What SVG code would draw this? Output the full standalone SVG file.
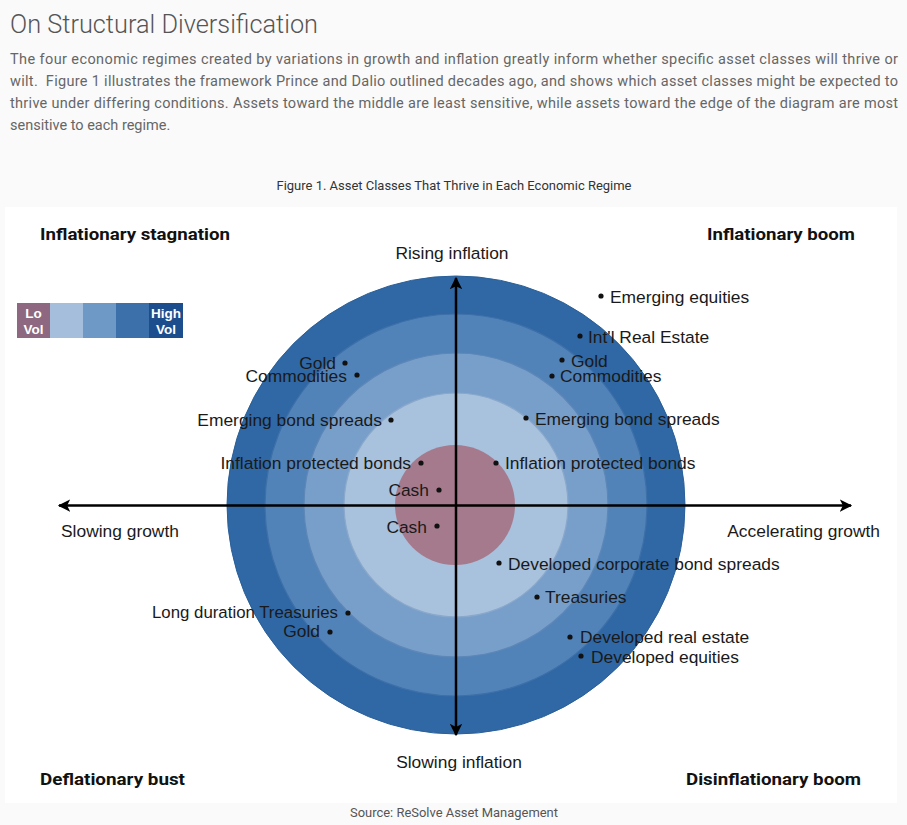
<svg xmlns="http://www.w3.org/2000/svg" width="907" height="825" viewBox="0 0 907 825">
<defs>
<style>
.para{font-family:Roboto,"Liberation Sans",sans-serif;font-size:14.5px;fill:#666}
.title{font-family:Roboto,"Liberation Sans",sans-serif;font-size:25px;font-weight:300;fill:#555}
.cap{font-family:Roboto,"Liberation Sans",sans-serif;font-size:13px;fill:#333}
.corner{font-family:Roboto,"Liberation Sans",sans-serif;font-size:17px;font-weight:700;fill:#111}
.lbl{font-family:"Liberation Sans",Arial,sans-serif;font-size:17.4px;fill:#1a1a1a}
.ax{font-family:"Liberation Sans",Arial,sans-serif;font-size:17.4px;fill:#1a1a1a}
.leg{font-family:"Liberation Sans",Arial,sans-serif;font-size:13.5px;font-weight:700;fill:#fff}
.dot{fill:#111}
.axis{stroke:#000;stroke-width:2.5;fill:none}
</style>
<marker id="ah" viewBox="0 0 10 10" refX="9" refY="5" markerWidth="5" markerHeight="5" orient="auto" markerUnits="strokeWidth">
<path d="M0,0 L10,5 L0,10 L2.5,5 Z" fill="#000"/>
</marker>
</defs>
<rect width="907" height="825" fill="#fafafa"/>
<text class="title" x="10" y="33" textLength="308" lengthAdjust="spacingAndGlyphs">On Structural Diversification</text>
<text class="para" x="10" y="64" textLength="888" lengthAdjust="spacing">The four economic regimes created by variations in growth and inflation greatly inform whether specific asset classes will thrive or</text>
<text class="para" x="10" y="86" textLength="888" lengthAdjust="spacing" xml:space="preserve">wilt.  Figure 1 illustrates the framework Prince and Dalio outlined decades ago, and shows which asset classes might be expected to</text>
<text class="para" x="10" y="108" textLength="888" lengthAdjust="spacing">thrive under differing conditions. Assets toward the middle are least sensitive, while assets toward the edge of the diagram are most</text>
<text class="para" x="10" y="130">sensitive to each regime.</text>
<text class="cap" x="454" y="190" text-anchor="middle" textLength="355" lengthAdjust="spacingAndGlyphs">Figure 1. Asset Classes That Thrive in Each Economic Regime</text>
<rect x="5" y="207" width="892" height="596" fill="#fff"/>
<g id="rings">
<circle cx="456" cy="505" r="229" fill="#2f68a5" stroke="#2a5f98" stroke-width="1"/>
<circle cx="456" cy="505" r="191" fill="#5183b9" stroke="#3e70a8" stroke-width="1.2"/>
<circle cx="456" cy="505" r="152" fill="#789fca" stroke="#5d87b7" stroke-width="1.2"/>
<circle cx="456" cy="505" r="112" fill="#a8c1dc" stroke="#8aa8cb" stroke-width="1.2"/>
<circle cx="455" cy="505" r="60" fill="#a67a8d"/>
</g>
<g id="legend">
<rect x="17" y="303" width="33" height="35" fill="#8d6880"/>
<rect x="50" y="303" width="33" height="35" fill="#a5bedb"/>
<rect x="83" y="303" width="33" height="35" fill="#6e98c5"/>
<rect x="116" y="303" width="33" height="35" fill="#3c70aa"/>
<rect x="149" y="303" width="34" height="35" fill="#1c4e8e"/>
<text class="leg" x="33.5" y="318" text-anchor="middle">Lo</text>
<text class="leg" x="33.5" y="334" text-anchor="middle">Vol</text>
<text class="leg" x="166" y="318" text-anchor="middle">High</text>
<text class="leg" x="166" y="334" text-anchor="middle">Vol</text>
</g>
<g id="connectors">
<line class="axis" x1="456" y1="505.5" x2="59" y2="505.5" marker-end="url(#ah)"/>
<line class="axis" x1="456" y1="505.5" x2="851" y2="505.5" marker-end="url(#ah)"/>
<line class="axis" x1="456" y1="505.5" x2="456" y2="278" stroke-width="2.2" marker-end="url(#ah)"/>
<line class="axis" x1="456" y1="505.5" x2="456" y2="735" stroke-width="2.2" marker-end="url(#ah)"/>
</g>
<g id="axis-labels">
<text class="ax" x="452" y="259" text-anchor="middle">Rising inflation</text>
<text class="ax" x="459" y="768" text-anchor="middle">Slowing inflation</text>
<text class="ax" x="61" y="537">Slowing growth</text>
<text class="ax" x="880" y="537" text-anchor="end">Accelerating growth</text>
</g>
<g id="regimes">
<text class="corner" x="40" y="240" textLength="190" lengthAdjust="spacingAndGlyphs">Inflationary stagnation</text>
<text class="corner" x="707" y="240" textLength="148" lengthAdjust="spacingAndGlyphs">Inflationary boom</text>
<text class="corner" x="40" y="785" textLength="145" lengthAdjust="spacingAndGlyphs">Deflationary bust</text>
<text class="corner" x="686" y="785" textLength="175" lengthAdjust="spacingAndGlyphs">Disinflationary boom</text>
</g>
<g id="right-assets">
<circle class="dot" cx="601" cy="296" r="2.6"/><text class="lbl" x="610" y="303">Emerging equities</text>
<circle class="dot" cx="580" cy="336" r="2.6"/><text class="lbl" x="588" y="343">Int'l Real Estate</text>
<circle class="dot" cx="562" cy="360" r="2.6"/><text class="lbl" x="571" y="367">Gold</text>
<circle class="dot" cx="552" cy="376" r="2.6"/><text class="lbl" x="560" y="382">Commodities</text>
<circle class="dot" cx="526" cy="418" r="2.6"/><text class="lbl" x="535" y="425">Emerging bond spreads</text>
<circle class="dot" cx="496" cy="463" r="2.6"/><text class="lbl" x="505" y="469">Inflation protected bonds</text>
<circle class="dot" cx="499" cy="563" r="2.6"/><text class="lbl" x="508" y="570">Developed corporate bond spreads</text>
<circle class="dot" cx="537" cy="597" r="2.6"/><text class="lbl" x="545" y="603">Treasuries</text>
<circle class="dot" cx="570" cy="637" r="2.6"/><text class="lbl" x="580" y="643">Developed real estate</text>
<circle class="dot" cx="581" cy="656" r="2.6"/><text class="lbl" x="591" y="663">Developed equities</text>
</g>
<g id="left-assets">
<circle class="dot" cx="345" cy="363" r="2.6"/><text class="lbl" x="336" y="369" text-anchor="end">Gold</text>
<circle class="dot" cx="357" cy="375" r="2.6"/><text class="lbl" x="347" y="382" text-anchor="end">Commodities</text>
<circle class="dot" cx="391" cy="420" r="2.6"/><text class="lbl" x="382" y="426" text-anchor="end">Emerging bond spreads</text>
<circle class="dot" cx="421" cy="463" r="2.6"/><text class="lbl" x="411" y="469" text-anchor="end">Inflation protected bonds</text>
<circle class="dot" cx="439" cy="490" r="2.6"/><text class="lbl" x="429" y="496" text-anchor="end">Cash</text>
<circle class="dot" cx="437" cy="526" r="2.6"/><text class="lbl" x="427" y="533" text-anchor="end">Cash</text>
<circle class="dot" cx="348" cy="613" r="2.6"/><text class="lbl" x="152" y="618" textLength="186" lengthAdjust="spacingAndGlyphs">Long duration Treasuries</text>
<circle class="dot" cx="330" cy="632" r="2.6"/><text class="lbl" x="320" y="637" text-anchor="end">Gold</text>
</g>
<text class="cap" x="454" y="817" text-anchor="middle" textLength="208" lengthAdjust="spacingAndGlyphs" style="fill:#555">Source: ReSolve Asset Management</text>
</svg>
